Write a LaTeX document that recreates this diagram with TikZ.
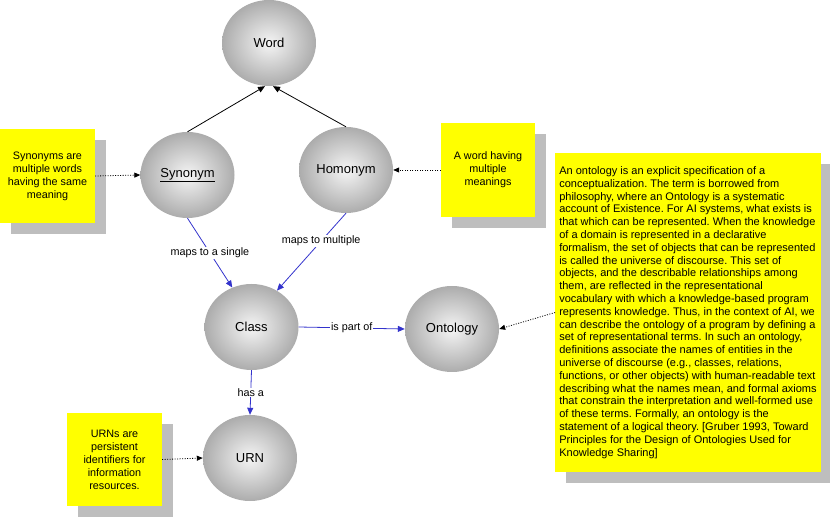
\documentclass[tikz,border=0pt]{standalone}
\usepackage{fontspec}
\setmainfont{Liberation Sans}
\frenchspacing
\usetikzlibrary{shapes.geometric,shadows,arrows.meta}
\definecolor{note}{RGB}{255,255,0}
\definecolor{shade}{RGB}{190,190,190}
\definecolor{link}{RGB}{51,51,204}
\definecolor{ballin}{RGB}{245,245,245}
\definecolor{ballout}{RGB}{172,172,172}

\begin{document}
\begin{tikzpicture}[x=1pt, y=-1pt,
  ball/.style={ellipse, minimum width=94pt, minimum height=86pt, inner sep=0pt,
    inner color=ballin, outer color=ballout, font=\fontsize{13}{15}\selectfont},
  sticky/.style={rectangle, fill=note, align=center, inner sep=3pt,
    general shadow={shadow xshift=11pt, shadow yshift=-11pt, fill=shade},
    font=\fontsize{10.8}{13}\selectfont},
  isa/.style={-{Triangle[length=7pt,width=6pt]}, line width=0.8pt},
  rel/.style={isa, link},
  tag/.style={fill=white, inner sep=1pt, text=black, font=\fontsize{10.8}{12}\selectfont},
  remark/.style={-{Triangle[length=6pt,width=5pt]}, dash pattern=on 1pt off 1.5pt, line width=0.8pt}]
  \useasboundingbox (0,0) rectangle (830,518);
  % concepts
  \node[ball] (word) at (269,43) {Word};
  \node[ball] (syn) at (187.5,175) {\underline{Synonym}};
  \node[ball] (hom) at (346,170) {Homonym};
  \node[ball] (class) at (251.5,327) {Class};
  \node[ball] (onto) at (452,329) {Ontology};
  \node[ball] (urn) at (250,458) {URN};
  % notes
  \node[sticky, minimum width=95pt, minimum height=94pt] (synnote) at (47.5,176)
    {Synonyms are\\multiple words\\having the same\\meaning};
  \node[sticky, minimum width=94pt, minimum height=94pt] (homnote) at (488,170)
    {A word having\\multiple\\meanings};
  \node[sticky, minimum width=95pt, minimum height=93pt] (urnnote) at (114.5,459.5)
    {URNs are\\persistent\\identifiers for\\information\\resources.};
  \node[sticky, align=left, minimum width=260pt, minimum height=319pt, inner xsep=4pt,
    font=\fontsize{11}{12.8}\selectfont] (ontonote) at (688,312.5)
    {An ontology is an explicit specification of a\\
     conceptualization. The term is borrowed from\\
     philosophy, where an Ontology is a systematic\\
     account of Existence. For AI systems, what exists is\\
     that which can be represented. When the knowledge\\
     of a domain is represented in a declarative\\
     formalism, the set of objects that can be represented\\
     is called the universe of discourse. This set of\\
     objects, and the describable relationships among\\
     them, are reflected in the representational\\
     vocabulary with which a knowledge-based program\\
     represents knowledge. Thus, in the context of AI, we\\
     can describe the ontology of a program by defining a\\
     set of representational terms. In such an ontology,\\
     definitions associate the names of entities in the\\
     universe of discourse (e.g., classes, relations,\\
     functions, or other objects) with human-readable text\\
     describing what the names mean, and formal axioms\\
     that constrain the interpretation and well-formed use\\
     of these terms. Formally, an ontology is the\\
     statement of a logical theory. [Gruber 1993, Toward\\
     Principles for the Design of Ontologies Used for\\
     Knowledge Sharing]};
  % is-a links
  \draw[isa] (syn.north) -- ([xshift=-4pt]word.south);
  \draw[isa] (hom.north) -- ([xshift=4pt]word.south);
  % relations
  \draw[rel] (syn.south) -- (class.116) node[tag, pos=0.5] {maps to a single};
  \draw[rel] (hom.south) -- (class.55) node[tag, pos=0.36] {maps to multiple};
  \draw[rel] (class.east) -- (onto.west) node[tag, pos=0.5] {is part of};
  \draw[rel] (class.south) -- (urn.north) node[tag, pos=0.5] {has a};
  % note pointers
  \draw[remark] (synnote.east) -- (syn.west);
  \draw[remark] (homnote.west) -- (hom.east);
  \draw[remark] (urnnote.east) -- (urn.west);
  \draw[remark] (ontonote.west) -- (onto.east);
\end{tikzpicture}
\end{document}
